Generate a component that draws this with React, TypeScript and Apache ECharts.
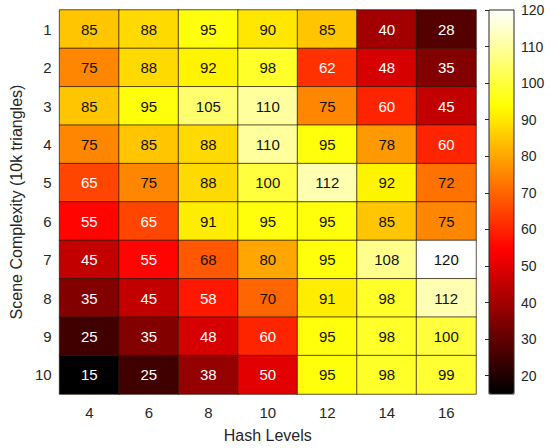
import React, { useEffect, useRef } from 'react';
import * as echarts from 'echarts';

const hashLevels = ['4', '6', '8', '10', '12', '14', '16'];
const complexity = ['1', '2', '3', '4', '5', '6', '7', '8', '9', '10'];

// rows = scene complexity 1..10, columns = hash levels 4..16
const row1 = [85, 88, 95, 90, 85, 40, 28];
const row2 = [75, 88, 92, 98, 62, 48, 35];
const row3 = [85, 95, 105, 110, 75, 60, 45];
const row4 = [75, 85, 88, 110, 95, 78, 60];
const row5 = [65, 75, 88, 100, 112, 92, 72];
const row6 = [55, 65, 91, 95, 95, 85, 75];
const row7 = [45, 55, 68, 80, 95, 108, 120];
const row8 = [35, 45, 58, 70, 91, 98, 112];
const row9 = [25, 35, 48, 60, 95, 98, 100];
const row10 = [15, 25, 38, 50, 95, 98, 99];
const rows = [row1, row2, row3, row4, row5, row6, row7, row8, row9, row10];

const colorbarTicks = [20, 30, 40, 50, 60, 70, 80, 90, 100, 110, 120];
const cMin = 15;
const cMax = 120;
const whiteTextMax = 65;

// MATLAB "hot" colormap sampled at 9 evenly spaced stops
const hotColors = [
  '#000000', '#550000', '#aa0000', '#ff0000',
  '#ff5500', '#ffaa00', '#ffff00', '#ffff80', '#ffffff',
];

const FONT = '"Liberation Sans", Arial, Helvetica, sans-serif';
const TXT = '#262626';

export default function App() {
  const ref = useRef<HTMLDivElement>(null);

  useEffect(() => {
    if (!ref.current) return;
    const chart = echarts.init(ref.current, null, { renderer: 'svg' });

    const data: any[] = [];
    rows.forEach((r, yi) => {
      r.forEach((v, xi) => {
        data.push({
          value: [xi, yi, v],
          label: { color: v <= whiteTextMax ? '#ffffff' : '#111111' },
        });
      });
    });

    chart.setOption({
      animation: false,
      textStyle: { fontFamily: FONT },
      grid: [
        { left: 51, top: 10, width: 425, height: 384 },
        {
          left: 489, top: 10, width: 25, height: 384,
          show: true, borderColor: TXT, borderWidth: 1,
          backgroundColor: 'transparent', z: 10,
        },
      ],
      xAxis: [
        {
          type: 'category', gridIndex: 0, data: hashLevels,
          name: 'Hash Levels', nameLocation: 'middle', nameGap: 33,
          nameTextStyle: { fontSize: 16, color: TXT, fontFamily: FONT },
          axisLine: { show: false }, axisTick: { show: false },
          axisLabel: { fontSize: 15, color: TXT, margin: 11, fontFamily: FONT },
          splitLine: { show: false },
        },
        { type: 'value', gridIndex: 1, show: false, min: 0, max: 1 },
      ],
      yAxis: [
        {
          type: 'category', gridIndex: 0, data: complexity, inverse: true,
          name: 'Scene Complexity (10k triangles)', nameLocation: 'middle',
          nameGap: 34, nameRotate: 90,
          nameTextStyle: { fontSize: 16, color: TXT, fontFamily: FONT },
          axisLine: { show: false }, axisTick: { show: false },
          axisLabel: { fontSize: 15, color: TXT, margin: 8, fontFamily: FONT },
          splitLine: { show: false },
        },
        {
          type: 'value', gridIndex: 1, min: cMin, max: cMax, position: 'right',
          axisLine: { show: false },
          axisTick: {
            show: true, inside: true, length: 4,
            customValues: colorbarTicks, lineStyle: { color: TXT },
          },
          axisLabel: {
            customValues: colorbarTicks, fontSize: 14, color: TXT,
            margin: 7, fontFamily: FONT,
          },
          splitLine: { show: false },
        },
      ],
      visualMap: {
        type: 'continuous', min: cMin, max: cMax, seriesIndex: 0,
        orient: 'vertical', left: 489, top: 10,
        itemWidth: 25, itemHeight: 384, padding: 0,
        calculable: false, hoverLink: false, realtime: false,
        inRange: { color: hotColors },
      },
      series: [
        {
          type: 'heatmap', xAxisIndex: 0, yAxisIndex: 0, data,
          label: { show: true, fontSize: 15, fontFamily: FONT },
          itemStyle: { borderColor: 'rgba(45,25,10,0.75)', borderWidth: 1 },
          emphasis: { disabled: true },
        },
      ],
    });

    return () => chart.dispose();
  }, []);

  return (
    <div
      ref={ref}
      style={{ position: 'fixed', left: 0, top: 0, width: 550, height: 448, background: '#fff' }}
    />
  );
}
